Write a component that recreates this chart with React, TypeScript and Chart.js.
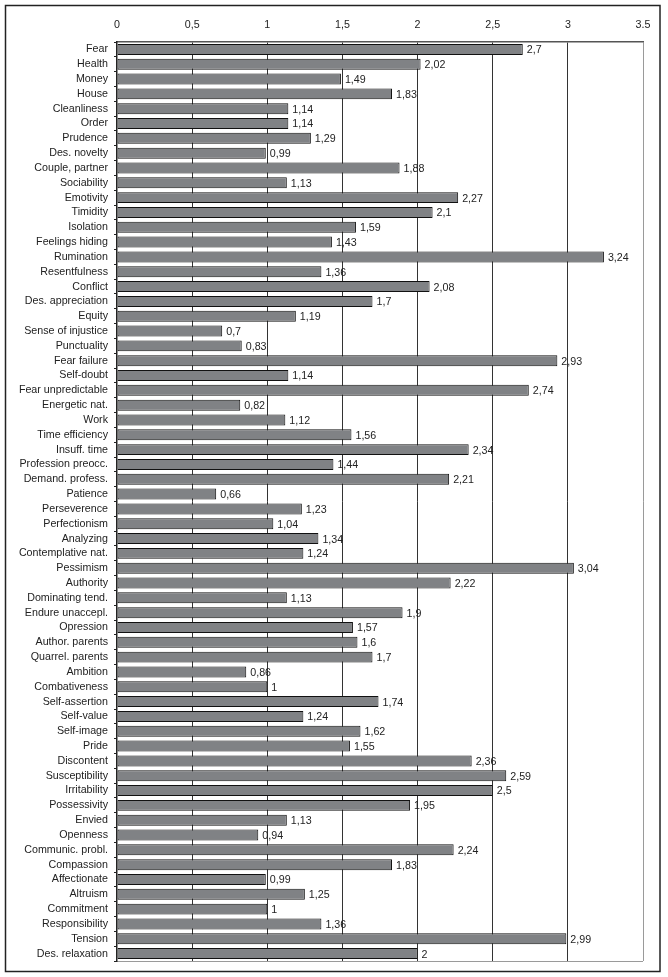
import React, { useEffect, useRef } from "react";
import { Chart, registerables } from "chart.js";

Chart.register(...registerables);

const categories = [
  "Fear", "Health", "Money", "House", "Cleanliness", "Order", "Prudence", "Des. novelty",
  "Couple, partner", "Sociability", "Emotivity", "Timidity", "Isolation", "Feelings hiding",
  "Rumination", "Resentfulness", "Conflict", "Des. appreciation", "Equity", "Sense of injustice",
  "Punctuality", "Fear failure", "Self-doubt", "Fear unpredictable", "Energetic nat.", "Work",
  "Time efficiency", "Insuff. time", "Profession preocc.", "Demand. profess.", "Patience",
  "Perseverence", "Perfectionism", "Analyzing", "Contemplative nat.", "Pessimism", "Authority",
  "Dominating tend.", "Endure unaccepl.", "Opression", "Author. parents", "Quarrel. parents",
  "Ambition", "Combativeness", "Self-assertion", "Self-value", "Self-image", "Pride",
  "Discontent", "Susceptibility", "Irritability", "Possessivity", "Envied", "Openness",
  "Communic. probl.", "Compassion", "Affectionate", "Altruism", "Commitment", "Responsibility",
  "Tension", "Des. relaxation",
];

const values = [
  2.7, 2.02, 1.49, 1.83, 1.14, 1.14, 1.29, 0.99,
  1.88, 1.13, 2.27, 2.1, 1.59, 1.43,
  3.24, 1.36, 2.08, 1.7, 1.19, 0.7,
  0.83, 2.93, 1.14, 2.74, 0.82, 1.12,
  1.56, 2.34, 1.44, 2.21, 0.66,
  1.23, 1.04, 1.34, 1.24, 3.04, 2.22,
  1.13, 1.9, 1.57, 1.6, 1.7,
  0.86, 1, 1.74, 1.24, 1.62, 1.55,
  2.36, 2.59, 2.5, 1.95, 1.13, 0.94,
  2.24, 1.83, 0.99, 1.25, 1, 1.36,
  2.99, 2,
];

const xTickLabels = ["0", "0,5", "1", "1,5", "2", "2,5", "3", "3.5"];

const FONT = "'Liberation Sans', Arial, sans-serif";

export default function App() {
  const ref = useRef<HTMLCanvasElement | null>(null);

  useEffect(() => {
    if (!ref.current) return;

    const framePlugin = {
      id: "frame",
      beforeDraw(chart: any) {
        const { ctx, chartArea } = chart;
        ctx.save();
        ctx.fillStyle = "#ffffff";
        ctx.fillRect(0, 0, chart.width, chart.height);
        ctx.strokeStyle = "#222";
        ctx.lineWidth = 1.5;
        ctx.strokeRect(5.5, 5.5, 654.5, 966);
        // bottom plot border (gray)
        ctx.strokeStyle = "#9a9a9a";
        ctx.lineWidth = 1;
        ctx.beginPath();
        ctx.moveTo(chartArea.left, chartArea.bottom + 0.5);
        ctx.lineTo(chartArea.right, chartArea.bottom + 0.5);
        ctx.stroke();
        ctx.restore();
      },
    };

    const labelPlugin = {
      id: "valueLabels",
      afterDatasetsDraw(chart: any) {
        const { ctx } = chart;
        const meta = chart.getDatasetMeta(0);
        ctx.save();
        ctx.font = `10.7px ${FONT}`;
        ctx.fillStyle = "#222";
        ctx.textAlign = "left";
        ctx.textBaseline = "middle";
        meta.data.forEach((bar: any, i: number) => {
          const txt = String(values[i]).replace(".", ",");
          ctx.fillText(txt, bar.x + 4, bar.y + 1);
        });
        ctx.restore();
      },
    };

    const chart = new Chart(ref.current, {
      type: "bar",
      data: {
        labels: categories,
        datasets: [
          {
            data: values,
            backgroundColor: "#808285",
            borderColor: "#111",
            borderWidth: 1,
            borderSkipped: false,
            categoryPercentage: 1,
            barPercentage: 0.74,
          },
        ],
      },
      options: {
        indexAxis: "y",
        animation: false,
        responsive: false,
        maintainAspectRatio: false,
        layout: { padding: { top: 0, left: 0, right: 25, bottom: 16 } },
        plugins: {
          legend: { display: false },
          tooltip: { enabled: false },
        },
        scales: {
          x: {
            type: "linear",
            position: "top",
            min: 0,
            max: 3.5,
            afterFit: (s: any) => {
              s.height = 42;
            },
            ticks: {
              stepSize: 0.5,
              padding: 11,
              color: "#222",
              font: { family: FONT, size: 10.7 },
              callback: (v: any) => xTickLabels[Math.round(Number(v) / 0.5)],
            },
            grid: {
              drawTicks: false,
              color: (c: any) =>
                c.tick && c.tick.value === 3.5
                  ? "#9a9a9a"
                  : c.tick && c.tick.value === 0
                  ? "rgba(0,0,0,0)"
                  : "#333",
              lineWidth: 1,
            },
            border: { display: true, color: "#555", width: 1.5 },
          },
          y: {
            type: "category",
            afterFit: (s: any) => {
              s.width = 117;
            },
            ticks: {
              padding: 6,
              color: "#222",
              autoSkip: false,
              font: { family: FONT, size: 10.7 },
            },
            grid: {
              offset: true,
              drawOnChartArea: false,
              drawTicks: true,
              tickLength: 3,
              color: "#222",
            },
            border: { display: true, color: "#222", width: 1.5 },
          },
        },
      },
      plugins: [framePlugin, labelPlugin],
    });

    return () => chart.destroy();
  }, []);

  return (
    <div style={{ position: "absolute", left: 0, top: 0, width: 668, height: 977 }}>
      <canvas ref={ref} width={668} height={977} style={{ display: "block" }} />
    </div>
  );
}
